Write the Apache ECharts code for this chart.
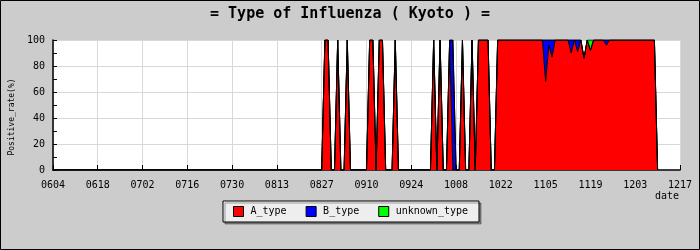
<!DOCTYPE html>
<html>
<head>
<meta charset="utf-8">
<script src="https://cdn.jsdelivr.net/npm/echarts@6/dist/echarts.min.js"></script>
<style>
html,body{margin:0;padding:0;background:#cccccc;}
#chart{width:700px;height:250px;}
</style>
</head>
<body>
<div id="chart"></div>
<script>
// Daily categories from 06/04 to 12/17 (MMDD)
var startDate = Date.UTC(2023, 5, 4);
var dayCount = 197;
var categories = [];
for (var i = 0; i < dayCount; i++) {
  var d = new Date(startDate + i * 86400000);
  var mm = String(d.getUTCMonth() + 1).padStart(2, '0');
  var dd = String(d.getUTCDate()).padStart(2, '0');
  categories.push(mm + dd);
}
var tickLabels = ['0604','0618','0702','0716','0730','0813','0827','0910','0924','1008','1022','1105','1119','1203','1217'];
var yTicks = [0, 20, 40, 60, 80, 100];

// Positive rate (%) per day, days 0..189
var aType = [
  0,0,0,0,0,0,0,0,0,0,0,0,0,0,
  0,0,0,0,0,0,0,0,0,0,0,0,0,0,
  0,0,0,0,0,0,0,0,0,0,0,0,0,0,
  0,0,0,0,0,0,0,0,0,0,0,0,0,0,
  0,0,0,0,0,0,0,0,0,0,0,0,0,0,
  0,0,0,0,0,0,0,0,0,0,0,0,0,0,
  0,100,100,0,0,100,0,0,100,0,0,0,0,0,
  0,100,100,0,100,100,0,0,0,100,0,0,0,0,
  0,0,0,0,0,0,0,100,0,100,0,0,100,0,
  0,0,100,0,0,100,0,100,100,100,100,0,0,100,
  100,100,100,100,100,100,100,100,100,100,100,100,100,100,
  68,96,87,100,100,100,100,100,90,100,91,100,86,100,
  92,100,100,100,100,96,100,100,100,100,100,100,100,100,
  100,100,100,100,100,100,100,0
];
var bType = [
  0,0,0,0,0,0,0,0,0,0,0,0,0,0,
  0,0,0,0,0,0,0,0,0,0,0,0,0,0,
  0,0,0,0,0,0,0,0,0,0,0,0,0,0,
  0,0,0,0,0,0,0,0,0,0,0,0,0,0,
  0,0,0,0,0,0,0,0,0,0,0,0,0,0,
  0,0,0,0,0,0,0,0,0,0,0,0,0,0,
  0,0,0,0,0,0,0,0,0,0,0,0,0,0,
  0,0,0,0,0,0,0,0,0,0,0,0,0,0,
  0,0,0,0,0,0,0,0,0,0,0,0,0,100,
  0,0,0,0,0,0,0,0,0,0,0,0,0,0,
  0,0,0,0,0,0,0,0,0,0,0,0,0,0,
  32,4,13,0,0,0,0,0,10,0,9,0,0,0,
  0,0,0,0,0,4,0,0,0,0,0,0,0,0,
  0,0,0,0,0,0,0,0
];
var unknownType = [
  0,0,0,0,0,0,0,0,0,0,0,0,0,0,
  0,0,0,0,0,0,0,0,0,0,0,0,0,0,
  0,0,0,0,0,0,0,0,0,0,0,0,0,0,
  0,0,0,0,0,0,0,0,0,0,0,0,0,0,
  0,0,0,0,0,0,0,0,0,0,0,0,0,0,
  0,0,0,0,0,0,0,0,0,0,0,0,0,0,
  0,0,0,0,0,0,0,0,0,0,0,0,0,0,
  0,0,0,0,0,0,0,0,0,0,0,0,0,0,
  0,0,0,0,0,0,0,0,0,0,0,0,0,0,
  0,0,0,0,0,0,0,0,0,0,0,0,0,0,
  0,0,0,0,0,0,0,0,0,0,0,0,0,0,
  0,0,0,0,0,0,0,0,0,0,0,0,0,0,
  8,0,0,0,0,0,0,0,0,0,0,0,0,0,
  0,0,0,0,0,0,0,0
];
var seriesNames = ['A_type', 'B_type', 'unknown_type'];
var seriesColors = ['#ff0000', '#0000ff', '#00ff00'];
var seriesData = [aType, bType, unknownType];

var mono = 'DejaVu Sans Mono';
var chart = echarts.init(document.getElementById('chart'));
var option = {
  backgroundColor: '#cccccc',
  animation: false,
  title: {
    text: '= Type of Influenza ( Kyoto ) =',
    left: 'center',
    top: 2,
    textStyle: {fontFamily: mono, fontSize: 15, fontWeight: 'bold', color: '#000'}
  },
  legend: {
    left: 223, top: 201,
    padding: [5, 11, 5, 10],
    itemWidth: 10, itemHeight: 10, itemGap: 19,
    icon: 'rect',
    backgroundColor: '#eeeeee',
    borderColor: '#000', borderWidth: 1,
    shadowColor: 'rgba(0,0,0,0.35)', shadowOffsetX: 2, shadowOffsetY: 2, shadowBlur: 0,
    itemStyle: {borderColor: '#000', borderWidth: 1},
    textStyle: {fontFamily: mono, fontSize: 10, color: '#000', padding: [0, 0, 0, 2]},
    data: seriesNames
  },
  grid: {left: 50, right: 20, top: 40, bottom: 80, show: true, backgroundColor: '#ffffff', borderWidth: 0},
  xAxis: {
    type: 'category',
    boundaryGap: false,
    data: categories,
    name: 'date',
    nameLocation: 'end',
    nameGap: -1,
    nameTextStyle: {fontFamily: mono, fontSize: 10, color: '#000', align: 'right', verticalAlign: 'top', padding: [21, 0, 0, 0]},
    axisLine: {lineStyle: {color: '#000', width: 1.5}},
    axisTick: {inside: true, length: 5, interval: 13, lineStyle: {color: '#000'}},
    axisLabel: {
      interval: 13, margin: 10, fontFamily: mono, fontSize: 10, color: '#000',
      formatter: function (v) { return tickLabels.indexOf(v) >= 0 ? v : ''; }
    },
    splitLine: {show: true, interval: 13, lineStyle: {color: '#d8d8d8', width: 1}}
  },
  yAxis: {
    type: 'value',
    min: 0, max: 100, interval: 20,
    name: 'Positive_rate(%)',
    nameLocation: 'middle',
    nameGap: 26,
    nameTextStyle: {fontFamily: mono, fontSize: 8, color: '#000', padding: [0, 24, 0, 0]},
    axisLine: {show: true, lineStyle: {color: '#000', width: 1.5}},
    axisTick: {show: true, inside: true, length: 4, lineStyle: {color: '#000'}},
    minorTick: {show: true, splitNumber: 2, length: 4, lineStyle: {color: '#000'}},
    axisLabel: {
      margin: 8, fontFamily: mono, fontSize: 10, color: '#000',
      formatter: function (v) { return yTicks.indexOf(v) >= 0 ? String(v) : ''; }
    },
    splitLine: {show: true, lineStyle: {color: '#d8d8d8', width: 1}}
  },
  series: seriesNames.map(function (name, idx) {
    return {
      name: name,
      type: 'line',
      stack: 'total',
      data: seriesData[idx],
      symbol: 'none',
      smooth: false,
      itemStyle: {color: seriesColors[idx]},
      lineStyle: {color: '#000', width: 1},
      areaStyle: {color: seriesColors[idx], opacity: 1}
    };
  }),
  graphic: [{
    type: 'rect', silent: true, z: 100,
    shape: {x: 0.5, y: 0.5, width: 699, height: 249},
    style: {fill: 'none', stroke: '#000', lineWidth: 1}
  }]
};
chart.setOption(option);
</script>
</body>
</html>
